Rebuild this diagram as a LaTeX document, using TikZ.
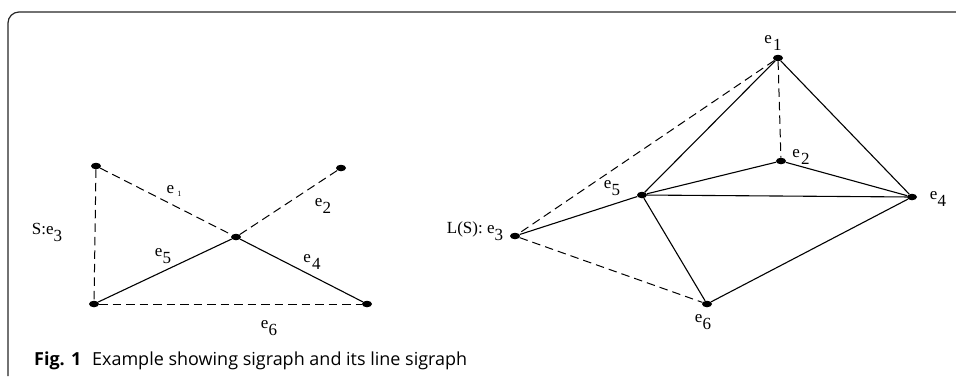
\documentclass[tikz,border=0pt]{standalone}
\usepackage{fontspec}
\usetikzlibrary{shapes.geometric}
\setmainfont{Liberation Serif}
\newfontfamily\capfont{Open Sans}
\newcommand{\sbs}[1]{\raisebox{-7pt}{#1}}
\begin{document}
\begin{tikzpicture}[x=1pt,y=-1pt,
  vtx/.style={ellipse,fill=black,inner sep=0pt,minimum width=10pt,minimum height=6.5pt},
  lbl/.style={inner sep=0pt,font=\fontsize{17}{19}\selectfont},
  dsh/.style={dashed,dash pattern=on 8.5pt off 5pt,line width=1pt},
  sld/.style={line width=1.1pt}]
\useasboundingbox (0,0) rectangle (956,376);
\draw[line width=1.2pt,draw=black!85,rounded corners=11pt] (8,376) -- (8,12) -- (956,12);
% left graph
\node[vtx] (a) at (96,166) {};
\node[vtx] (b) at (341,168) {};
\node[vtx] (c) at (236,237) {};
\node[vtx] (d) at (94,304) {};
\node[vtx] (e) at (367,304) {};
\draw[dsh] (a) -- (c);
\draw[dsh] (c) -- (b);
\draw[dsh] (a) -- (d);
\draw[dsh] (d) -- (e);
\draw[sld] (c) -- (e);
\draw[sld] (d) -- (c);
\node[lbl] (l1) at (174,191) {e\hspace{3pt}\raisebox{-3pt}{\fontsize{8}{9}\selectfont 1}};
\node[lbl] (l2) at (323,206) {e\sbs{2}};
\node[lbl] (l3) at (47,232) {S:e\sbs{3}};
\node[lbl] (l5) at (163,256) {e\sbs{5}};
\node[lbl] (l4) at (312,262) {e\hspace{1pt}\sbs{4}};
\node[lbl] (l6) at (269,328) {e\sbs{6}};
% right graph
\node[vtx] (r1) at (778,58) {};
\node[vtx] (r2) at (781,161) {};
\node[vtx] (r5) at (642,195) {};
\node[vtx] (r4) at (912,197) {};
\node[vtx] (r3) at (515,236) {};
\node[vtx] (r6) at (707,304) {};
\draw[dsh] (r1) -- (r3);
\draw[dsh] (r1) -- (r2);
\draw[dsh] (r3) -- (r6);
\draw[sld] (r1) -- (r5);
\draw[sld] (r1) -- (r4);
\draw[sld] (r2) -- (r5);
\draw[sld] (r2) -- (r4);
\draw[sld] (r5) -- (r4);
\draw[sld] (r5) -- (r3);
\draw[sld] (r5) -- (r6);
\draw[sld] (r6) -- (r4);
\node[lbl] (m1) at (773,43) {e\hspace{1pt}\sbs{1}};
\node[lbl] (m2) at (801,157) {e\hspace{1pt}\sbs{2}};
\node[lbl] (m5) at (612,188) {e\sbs{5}};
\node[lbl] (m4) at (938,199) {e\sbs{4}};
\node[lbl] (m3) at (475,231) {L(S): e\sbs{3}};
\node[lbl] (m6) at (703,322) {e\sbs{6}};
% caption
\node[anchor=west,inner sep=0pt,font=\capfont\fontsize{18}{20}\selectfont] (cap) at (34,361)
  {\resizebox{433pt}{!}{\textbf{Fig. 1}\hspace{0.6em}Example showing sigraph and its line sigraph}};
\end{tikzpicture}
\end{document}
